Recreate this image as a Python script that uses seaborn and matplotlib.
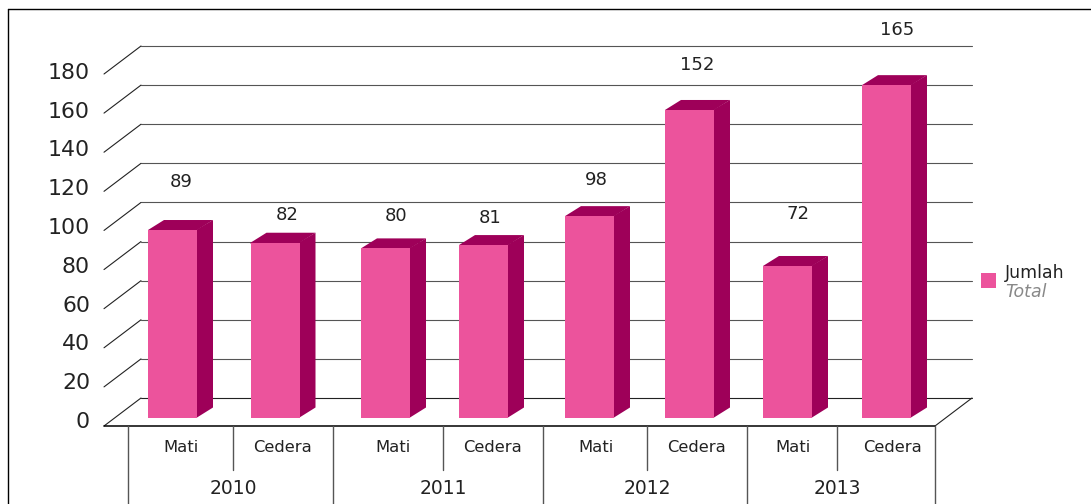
import pandas as pd
import seaborn as sns
import matplotlib.pyplot as plt
from matplotlib.patches import Polygon, Rectangle

# Data
years = ["2010", "2011", "2012", "2013"]
kinds = ["Mati", "Cedera", "Mati", "Cedera", "Mati", "Cedera", "Mati", "Cedera"]
labels = [89, 82, 80, 81, 98, 152, 72, 165]
# the drawn bars are a bit taller than their printed labels
heights = [95.9, 89.4, 86.5, 88.2, 103, 157.3, 77.5, 170]
y_ticks = [0, 20, 40, 60, 80, 100, 120, 140, 160, 180]

# Layout, the x axis runs in picture pixels
bar_x = [172.5, 275, 385.5, 483.5, 589.5, 689.5, 787.5, 886.5]
bar_w = 49
label_xy = [(181, 182), (287, 215), (396, 216), (490, 218), (596, 180), (697, 65), (798, 214), (897, 30)]
kind_x = [181, 283, 393, 492, 596, 696, 793, 893]
year_x = [233, 443, 647, 837]
cell_edges = [128, 233, 333, 443, 543, 647, 747, 837, 935]
W, H = 1091, 504
base = 417.5      # pixel row of the bar feet
scale = 1.955     # pixels per unit
dx, dy = 16, 10   # depth of the 3d look

front = "#ec539c"
dark = "#9e0059"
line = "#555555"
thin = 0.8


def row(px):
    # pixel row to y value
    return (base - px) / scale


sns.set_style("white")
plt.rcParams['font.family'] = ['DejaVu Sans']

fig = plt.figure(figsize=(W / 100, H / 100), dpi=100)
ax = fig.add_axes([0, 0, 1, 1])

df = pd.DataFrame({"x": bar_x, "height": heights})
sns.barplot(data=df, x="x", y="height", native_scale=True, width=bar_w / 98,
            color=front, saturation=1, errorbar=None, ax=ax, zorder=4,
            edgecolor="none", linewidth=0)
ax.set_xlim(0, W)
ax.set_ylim(row(H), row(0))
ax.axis("off")

# Side and top faces of the bars, tucked a little behind the front face
for bar in ax.patches:
    x0 = bar.get_x()
    x1 = x0 + bar.get_width()
    top = bar.get_height()
    d = dy / scale
    ax.add_patch(Polygon([(x1 - 1, 0), (x1, 0), (x1 + dx, d), (x1 + dx, top + d), (x1 - 1, top)], fc=dark, ec="none", zorder=3))
    ax.add_patch(Polygon([(x0, top - 0.5), (x0, top), (x0 + dx, top + d), (x1 + dx, top + d), (x1, top), (x1, top - 0.5)], fc=dark, ec="none", zorder=3))

# Back wall lines and the slanted bits on the left
for t in y_ticks:
    py = 398 - t * 352 / 180
    ax.plot([141, 972], [row(py), row(py)], color=line if t else "#222222", lw=thin, zorder=1)
    ax.plot([104, 141], [row(py + 28), row(py)], color="#222222", lw=thin, zorder=1)
    ax.text(90, row(422 - t * 1.94), str(t), ha="right", va="center", fontsize=15.8, color="#222222")

# Floor
ax.plot([104, 935], [row(426), row(426)], color="black", lw=1.1, zorder=2)
ax.plot([935, 972], [row(426), row(398)], color="#222222", lw=thin, zorder=2)

# Table like axis under the floor
for i, e in enumerate(cell_edges):
    end = 504 if i % 2 == 0 else 470
    ax.plot([e, e], [row(426), row(end)], color=line, lw=1, zorder=2)
for x, k in zip(kind_x, kinds):
    ax.text(x, row(448), k, ha="center", va="center", fontsize=11.8, color="#222222")
for x, y in zip(year_x, years):
    ax.text(x, row(488), y, ha="center", va="center", fontsize=13.5, color="#222222")

# Value labels
for (x, y), v in zip(label_xy, labels):
    ax.text(x, row(y), str(v), ha="center", va="center", fontsize=13, color="#222222")

# Legend
ax.add_patch(Rectangle((981, row(288)), 15, 15 / scale, fc=front, ec="none"))
ax.text(1005, row(273), "Jumlah", ha="left", va="center", fontsize=12.5, color="#222222")
ax.text(1005, row(292), "Total", ha="left", va="center", fontsize=12.5, color="#888888", style="italic")

# Frame, open at the right and bottom
ax.plot([8, 8], [row(504), row(9)], color="black", lw=1, clip_on=False)
ax.plot([8, 1091], [row(9), row(9)], color="black", lw=1, clip_on=False)

plt.savefig("out.png", dpi=100)
plt.close()
